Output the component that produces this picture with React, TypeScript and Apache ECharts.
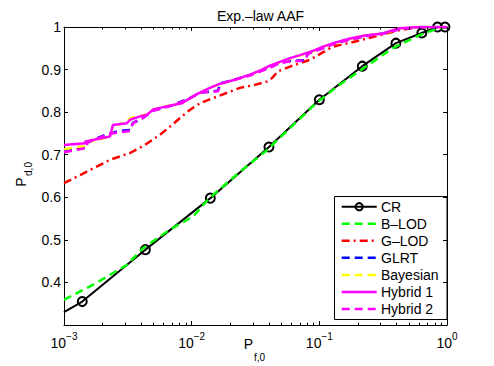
import React, { useEffect, useRef } from 'react';
import * as echarts from 'echarts';

const FONT = '"Liberation Sans", Arial, Helvetica, sans-serif';
const TITLE = 'Exp.–law AAF';
const X_NAME = 'P';
const X_SUB = 'f,0';
const Y_NAME = 'P';
const Y_SUB = 'd,0';

const X_MIN = 0.001;
const X_MAX = 1;
const Y_MIN = 0.3;
const Y_MAX = 1;
const Y_STEP = 0.1;

const SERIES_NAMES = ['CR', 'B–LOD', 'G–LOD', 'GLRT', 'Bayesian', 'Hybrid 1', 'Hybrid 2'];

const crX = [0.001, 0.00139, 0.00434, 0.014, 0.0403, 0.1, 0.217, 0.398, 0.635, 0.843, 0.964];
const crY = [0.33, 0.355, 0.477, 0.598, 0.718, 0.829, 0.908, 0.962, 0.986, 1.0, 1.0];
const crMarker = [false, true, true, true, true, true, true, true, true, true, true];

const blodX = [0.001, 0.0017, 0.0031, 0.00418, 0.00676, 0.0103, 0.0123, 0.014, 0.0239, 0.0386, 0.0625, 0.0953, 0.145, 0.196, 0.379, 0.6, 0.78, 1];
const blodY = [0.359, 0.395, 0.441, 0.481, 0.524, 0.555, 0.582, 0.6, 0.66, 0.71, 0.77, 0.822, 0.865, 0.892, 0.951, 0.98, 0.993, 1.0];

const glodX = [0.001, 0.00146, 0.00229, 0.00329, 0.00431, 0.00565, 0.00676, 0.00935, 0.0116, 0.0147, 0.0239, 0.0313, 0.0389, 0.0426, 0.0474, 0.0589, 0.0843, 0.128, 0.174, 0.236, 0.327, 0.428, 0.613, 1];
const glodY = [0.633, 0.658, 0.688, 0.704, 0.723, 0.747, 0.766, 0.802, 0.821, 0.833, 0.857, 0.864, 0.872, 0.88, 0.896, 0.907, 0.923, 0.954, 0.963, 0.973, 0.984, 0.993, 1.0, 1.0];

const glrtX = [0.001, 0.0015, 0.00151, 0.00217, 0.0027, 0.00329, 0.00347, 0.00416, 0.00498, 0.00714, 0.0097, 0.0116, 0.016, 0.0169, 0.0218, 0.0286, 0.0356, 0.041, 0.0491, 0.0589, 0.0771, 0.0815, 0.107, 0.132, 0.174, 0.228, 0.315, 0.428, 0.613, 1];
const glrtY = [0.708, 0.717, 0.729, 0.748, 0.756, 0.758, 0.775, 0.787, 0.804, 0.817, 0.833, 0.846, 0.85, 0.868, 0.877, 0.887, 0.898, 0.905, 0.916, 0.92, 0.922, 0.938, 0.951, 0.962, 0.971, 0.979, 0.985, 0.995, 1.0, 1.0];

const bayesX = [0.001, 0.00146, 0.00147, 0.00229, 0.00242, 0.00311, 0.00329, 0.00394, 0.00447, 0.00498, 0.00565, 0.00714, 0.0084, 0.0097, 0.0116, 0.0139, 0.0167, 0.0218, 0.0286, 0.0356, 0.041, 0.0491, 0.0589, 0.0705, 0.0891, 0.107, 0.132, 0.174, 0.228, 0.315, 0.391, 0.428, 0.613, 1];
const bayesY = [0.713, 0.72, 0.728, 0.742, 0.768, 0.776, 0.786, 0.791, 0.795, 0.806, 0.811, 0.817, 0.822, 0.832, 0.845, 0.857, 0.866, 0.876, 0.887, 0.9, 0.908, 0.917, 0.926, 0.933, 0.943, 0.954, 0.962, 0.972, 0.98, 0.985, 0.993, 0.997, 1.0, 1.0];

const hyb1X = [0.001, 0.00146, 0.00147, 0.00229, 0.00242, 0.00311, 0.00329, 0.00394, 0.00447, 0.00498, 0.00565, 0.00714, 0.0084, 0.0097, 0.0116, 0.0139, 0.0167, 0.0218, 0.0286, 0.0356, 0.041, 0.0491, 0.0589, 0.0705, 0.0891, 0.107, 0.132, 0.174, 0.228, 0.315, 0.391, 0.428, 0.613, 1];
const hyb1Y = [0.723, 0.727, 0.731, 0.743, 0.77, 0.774, 0.782, 0.79, 0.794, 0.806, 0.81, 0.817, 0.821, 0.833, 0.846, 0.857, 0.867, 0.876, 0.888, 0.9, 0.909, 0.918, 0.927, 0.934, 0.944, 0.954, 0.963, 0.973, 0.98, 0.985, 0.994, 0.997, 1.0, 1.0];

const hyb2X = [0.001, 0.00151, 0.00152, 0.00217, 0.0026, 0.00329, 0.00347, 0.00416, 0.00498, 0.00714, 0.0097, 0.0116, 0.0161, 0.017, 0.0218, 0.0286, 0.0356, 0.041, 0.0491, 0.0589, 0.0771, 0.0815, 0.107, 0.132, 0.174, 0.228, 0.315, 0.428, 0.613, 1];
const hyb2Y = [0.706, 0.716, 0.728, 0.747, 0.752, 0.756, 0.774, 0.786, 0.803, 0.816, 0.832, 0.846, 0.849, 0.867, 0.876, 0.886, 0.897, 0.904, 0.916, 0.919, 0.921, 0.937, 0.95, 0.961, 0.97, 0.978, 0.984, 0.995, 1.0, 1.0];

const MINOR_TICKS = [
  0.002, 0.003, 0.004, 0.005, 0.006, 0.007, 0.008, 0.009,
  0.02, 0.03, 0.04, 0.05, 0.06, 0.07, 0.08, 0.09,
  0.2, 0.3, 0.4, 0.5, 0.6, 0.7, 0.8, 0.9,
];

const DASH = [8, 5];
const DASHDOT = [8, 4, 2, 4];

const STYLES = [
  { color: '#000000', dash: null as number[] | null, marker: true, width: 2 },
  { color: '#00ff00', dash: DASH, marker: false, width: 2.5 },
  { color: '#ff0000', dash: DASHDOT, marker: false, width: 2.5 },
  { color: '#0000ff', dash: DASH, marker: false, width: 2.5 },
  { color: '#ffff00', dash: DASH, marker: false, width: 2.5 },
  { color: '#ff00ff', dash: null as number[] | null, marker: false, width: 2.5 },
  { color: '#ff00ff', dash: DASH, marker: false, width: 2.5 },
];

const zip = (xs: number[], ys: number[]) => xs.map((x, i) => [x, ys[i]]);

export default function App() {
  const ref = useRef<HTMLDivElement>(null);

  useEffect(() => {
    if (!ref.current) return;
    const chart = echarts.init(ref.current, undefined, { renderer: 'svg' });

    const GL = 64, GT = 27, GR = 447, GB = 325;

    const seriesData = [
      crX.map((x, i) => (crMarker[i] ? { value: [x, crY[i]] } : { value: [x, crY[i]], symbol: 'none' })),
      zip(blodX, blodY),
      zip(glodX, glodY),
      zip(glrtX, glrtY),
      zip(bayesX, bayesY),
      zip(hyb1X, hyb1Y),
      zip(hyb2X, hyb2Y),
    ];

    const lineSeries = SERIES_NAMES.map((name, i) => {
      const st = STYLES[i];
      const base: any = {
        name,
        type: 'line',
        data: seriesData[i],
        xAxisIndex: 0,
        yAxisIndex: 0,
        lineStyle: { color: st.color, width: st.width, type: st.dash ? st.dash : 'solid', cap: 'butt' },
        z: 3 + i,
        silent: true,
      };
      if (st.marker) {
        base.symbol = 'circle';
        base.symbolSize = 9;
        base.showSymbol = true;
        base.itemStyle = { color: 'rgba(0,0,0,0)', borderColor: '#000', borderWidth: 2 };
      } else {
        base.symbol = 'none';
        base.showSymbol = false;
        base.itemStyle = { color: st.color };
      }
      return base;
    });

    const minorSeries = {
      type: 'custom',
      xAxisIndex: 0,
      yAxisIndex: 0,
      silent: true,
      clip: false,
      z: 20,
      data: MINOR_TICKS.map((v) => [v, Y_MIN]),
      encode: { x: 0, y: 1 },
      renderItem: (params: any, api: any) => {
        const v = api.value(0);
        const b = api.coord([v, Y_MIN]);
        const t = api.coord([v, Y_MAX]);
        const x = Math.round(b[0]) + 0.5;
        return {
          type: 'group',
          children: [
            { type: 'line', shape: { x1: x, y1: b[1], x2: x, y2: b[1] - 2.5 }, style: { stroke: '#000', lineWidth: 1 } },
            { type: 'line', shape: { x1: x, y1: t[1], x2: x, y2: t[1] + 2.5 }, style: { stroke: '#000', lineWidth: 1 } },
          ],
        };
      },
    };

    // legend drawn as graphic
    const LX = 334.5, LY = 196.5, LW = 112.5, LH = 123;
    const rowY0 = 206.7, rowH = 17.05;
    const legendChildren: any[] = [
      { type: 'rect', shape: { x: LX, y: LY, width: LW, height: LH }, style: { fill: '#fff', stroke: '#000', lineWidth: 1 } },
    ];
    SERIES_NAMES.forEach((name, i) => {
      const st = STYLES[i];
      const y = rowY0 + i * rowH;
      legendChildren.push({
        type: 'line',
        shape: { x1: 341.7, y1: y, x2: 376.7, y2: y },
        style: { stroke: st.color, lineWidth: st.width, lineDash: st.dash || null, lineCap: 'butt' },
      });
      if (st.marker) {
        legendChildren.push({
          type: 'circle',
          shape: { cx: 359.2, cy: y, r: 3.6 },
          style: { fill: 'none', stroke: '#000', lineWidth: 2 },
        });
      }
      legendChildren.push({
        type: 'text',
        x: 381,
        y: y,
        style: { text: name, font: `14px ${FONT}`, fill: '#000', textVerticalAlign: 'middle', verticalAlign: 'middle' },
      });
    });

    const supFmt = (v: number) => {
      const e = Math.round(Math.log10(v));
      const s = e < 0 ? '−' + String(-e) : String(e);
      return `{b|10}{s|${s}}`;
    };

    const commonX = {
      type: 'log',
      logBase: 10,
      min: X_MIN,
      max: X_MAX,
      splitLine: { show: false },
      axisLine: { show: true, onZero: false, lineStyle: { color: '#000', width: 1 } },
      axisTick: { show: true, inside: true, length: 4, lineStyle: { color: '#000' } },
      minorTick: { show: false },
    };
    const commonY = {
      type: 'value',
      min: Y_MIN,
      max: Y_MAX,
      interval: Y_STEP,
      splitLine: { show: false },
      axisLine: { show: true, onZero: false, lineStyle: { color: '#000', width: 1 } },
      axisTick: { show: true, inside: true, length: 4, lineStyle: { color: '#000' } },
    };

    chart.setOption({
      animation: false,
      backgroundColor: '#fff',
      textStyle: { fontFamily: FONT },
      title: {
        text: TITLE,
        left: 255.5,
        top: 4,
        textAlign: 'center',
        textStyle: { fontSize: 14, fontWeight: 'normal', color: '#000', fontFamily: FONT },
      },
      grid: { left: GL, top: GT, right: 494 - GR, bottom: 366 - GB, containLabel: false },
      xAxis: [
        {
          ...commonX,
          position: 'bottom',
          axisLabel: {
            show: true,
            margin: 6,
            formatter: supFmt,
            rich: {
              b: { fontSize: 14, lineHeight: 24, fontFamily: FONT, color: '#000' },
              s: { fontSize: 10, lineHeight: 10, verticalAlign: 'top', fontFamily: FONT, color: '#000' },
            },
          },
        },
        { ...commonX, position: 'top', axisLabel: { show: false } },
      ],
      yAxis: [
        {
          ...commonY,
          position: 'left',
          axisLabel: {
            show: true,
            margin: 3,
            fontSize: 14,
            color: '#000',
            fontFamily: FONT,
            formatter: (v: number) => (v < Y_MIN + 0.05 ? '' : String(Math.round(v * 10) / 10)),
          },
        },
        { ...commonY, position: 'right', axisLabel: { show: false } },
      ],
      graphic: [
        {
          type: 'text',
          x: 248.5,
          y: 343.5,
          style: { text: X_NAME, font: `14px ${FONT}`, fill: '#000', textAlign: 'center', textVerticalAlign: 'middle', align: 'center', verticalAlign: 'middle' },
        },
        {
          type: 'text',
          x: 259.5,
          y: 357.5,
          style: { text: X_SUB, font: `10px ${FONT}`, fill: '#000', textAlign: 'center', textVerticalAlign: 'middle', align: 'center', verticalAlign: 'middle' },
        },
        {
          type: 'text',
          x: 20.5,
          y: 182,
          rotation: Math.PI / 2,
          style: { text: Y_NAME, font: `14px ${FONT}`, fill: '#000', textAlign: 'center', textVerticalAlign: 'middle', align: 'center', verticalAlign: 'middle' },
        },
        {
          type: 'text',
          x: 28,
          y: 169,
          rotation: Math.PI / 2,
          style: { text: Y_SUB, font: `10px ${FONT}`, fill: '#000', textAlign: 'center', textVerticalAlign: 'middle', align: 'center', verticalAlign: 'middle' },
        },
        { type: 'group', z: 100, children: legendChildren },
      ],
      series: [...lineSeries, minorSeries],
    });

    return () => chart.dispose();
  }, []);

  return <div ref={ref} style={{ position: 'fixed', left: 0, top: 0, width: 494, height: 366 }} />;
}
